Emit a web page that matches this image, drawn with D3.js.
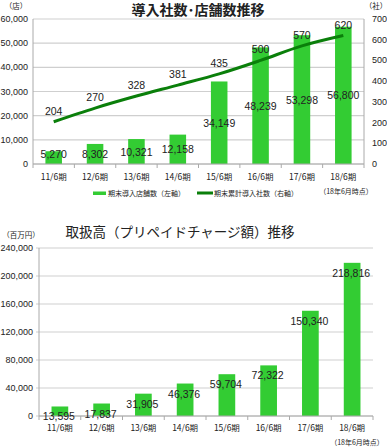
<!DOCTYPE html>
<html>
<head>
<meta charset="UTF-8">
<script src="https://d3js.org/d3.v7.min.js"></script>
<style>
	body { margin: 0; background: #fff; }
	text { font-family: "Liberation Sans", "Noto Sans CJK JP", sans-serif; fill: #222; }
	.jp { font-family: "Noto Sans CJK JP", sans-serif; }
</style>
</head>
<body>
<div id="chart"></div>
<script>
	// data
	let periods = ["11/6期", "12/6期", "13/6期", "14/6期", "15/6期", "16/6期", "17/6期", "18/6期"];
	let stores = [5270, 8302, 10321, 12158, 34149, 48239, 53298, 56800];
	let companies = [204, 270, 328, 381, 435, 500, 570, 620];
	let volume = [13595, 17837, 31905, 46376, 59704, 72322, 150340, 218816];

	let leftTicks = [0, 10000, 20000, 30000, 40000, 50000, 60000];
	let rightTicks = [0, 100, 200, 300, 400, 500, 600, 700];
	let volTicks = [0, 40000, 80000, 120000, 160000, 200000, 240000];

	let barColor = "#33cc33";
	let lineColor = "#0a7f0a";
	let gridColor = "#cfcfcf";
	let fmt = d3.format(",");

	let svg = d3.select("#chart").append("svg")
		.attr("width", 387)
		.attr("height", 447);

	// ---------- top chart ----------
	let topG = svg.append("g");

	let x1 = d3.scaleBand().domain(periods).range([33, 364]).paddingInner(0.6).paddingOuter(0.3);
	let yL = d3.scaleLinear().domain([0, 60000]).range([164, 19]);
	let yR = d3.scaleLinear().domain([0, 700]).range([164, 19]);

	topG.selectAll(".grid")
		.data(leftTicks)
		.join("line")
		.attr("x1", 33).attr("x2", 364)
		.attr("y1", d => yL(d)).attr("y2", d => yL(d))
		.attr("stroke", gridColor).attr("stroke-width", 1.2);

	topG.selectAll(".bar")
		.data(stores)
		.join("rect")
		.attr("x", (d, i) => x1(periods[i]))
		.attr("y", d => yL(d))
		.attr("width", x1.bandwidth())
		.attr("height", d => yL(0) - yL(d))
		.attr("fill", barColor);

	// axes lines
	topG.append("line").attr("x1", 33).attr("x2", 33).attr("y1", 19).attr("y2", 164).attr("stroke", "#aaa");
	topG.append("line").attr("x1", 364).attr("x2", 364).attr("y1", 19).attr("y2", 164).attr("stroke", "#aaa");
	topG.append("line").attr("x1", 33).attr("x2", 364).attr("y1", 164).attr("y2", 164).attr("stroke", "#aaa");

	topG.selectAll(".xtick")
		.data(d3.range(periods.length + 1))
		.join("line")
		.attr("x1", i => 33 + i * (331 / periods.length))
		.attr("x2", i => 33 + i * (331 / periods.length))
		.attr("y1", 164).attr("y2", 168)
		.attr("stroke", "#aaa");

	topG.selectAll(".ltick")
		.data(leftTicks)
		.join("text")
		.attr("x", 28).attr("y", d => yL(d) + 3)
		.attr("text-anchor", "end")
		.attr("font-size", 9)
		.text(d => fmt(d));

	topG.selectAll(".rtick")
		.data(rightTicks)
		.join("text")
		.attr("x", 372).attr("y", d => yR(d) + 3)
		.attr("font-size", 9)
		.text(d => d);

	topG.selectAll(".xlab")
		.data(periods)
		.join("text")
		.attr("class", "jp")
		.attr("x", d => x1(d) + x1.bandwidth() / 2)
		.attr("y", 180)
		.attr("text-anchor", "middle")
		.attr("font-size", 8.5)
		.text(d => d);

	let line = d3.line()
		.x((d, i) => x1(periods[i]) + x1.bandwidth() / 2)
		.y(d => yR(d))
		.curve(d3.curveMonotoneX);

	topG.append("path")
		.datum(companies)
		.attr("d", line)
		.attr("fill", "none")
		.attr("stroke", lineColor)
		.attr("stroke-width", 3);

	topG.selectAll(".barlab")
		.data(stores)
		.join("text")
		.attr("x", (d, i) => x1(periods[i]) + x1.bandwidth() / 2)
		.attr("y", d => Math.min((yL(d) + yL(0)) / 2, 154) + 4)
		.attr("text-anchor", "middle")
		.attr("font-size", 10.5)
		.text(d => fmt(d));

	topG.selectAll(".linelab")
		.data(companies)
		.join("text")
		.attr("x", (d, i) => x1(periods[i]) + x1.bandwidth() / 2)
		.attr("y", d => yR(d) - 7)
		.attr("text-anchor", "middle")
		.attr("font-size", 10.5)
		.text(d => d);

	topG.append("text").attr("class", "jp")
		.attr("x", 198).attr("y", 14.5)
		.attr("text-anchor", "middle")
		.attr("font-size", 14).attr("font-weight", "bold")
		.text("導入社数･店舗数推移");
	topG.append("text").attr("class", "jp")
		.attr("x", 16).attr("y", 9).attr("text-anchor", "middle")
		.attr("font-size", 7.5).text("（店）");
	topG.append("text").attr("class", "jp")
		.attr("x", 376).attr("y", 9).attr("text-anchor", "middle")
		.attr("font-size", 7.5).text("（社）");

	// legend
	topG.append("rect").attr("x", 93).attr("y", 191.5).attr("width", 13).attr("height", 3.5).attr("fill", barColor);
	topG.append("text").attr("class", "jp").attr("x", 108).attr("y", 196)
		.attr("font-size", 7).text("期末導入店舗数（左軸）");
	topG.append("rect").attr("x", 197).attr("y", 191.5).attr("width", 16).attr("height", 3).attr("fill", lineColor);
	topG.append("text").attr("class", "jp").attr("x", 214).attr("y", 196)
		.attr("font-size", 7).text("期末累計導入社数（右軸）");
	topG.append("text").attr("class", "jp").attr("x", 346).attr("y", 194)
		.attr("text-anchor", "middle")
		.attr("font-size", 7).text("（18年6月時点）");

	// ---------- bottom chart ----------
	let bot = svg.append("g");

	let x2 = d3.scaleBand().domain(periods).range([39, 373]).paddingInner(0.6).paddingOuter(0.3);
	let yV = d3.scaleLinear().domain([0, 240000]).range([416, 248]);

	bot.selectAll(".grid")
		.data(volTicks)
		.join("line")
		.attr("x1", 36).attr("x2", 373)
		.attr("y1", d => yV(d)).attr("y2", d => yV(d))
		.attr("stroke", gridColor).attr("stroke-width", 1.2);

	bot.selectAll(".bar")
		.data(volume)
		.join("rect")
		.attr("x", (d, i) => x2(periods[i]))
		.attr("y", d => yV(d))
		.attr("width", x2.bandwidth())
		.attr("height", d => yV(0) - yV(d))
		.attr("fill", barColor);

	bot.append("line").attr("x1", 39).attr("x2", 39).attr("y1", 248).attr("y2", 416).attr("stroke", "#aaa");
	bot.append("line").attr("x1", 39).attr("x2", 373).attr("y1", 416).attr("y2", 416).attr("stroke", "#aaa");

	bot.selectAll(".xtick")
		.data(d3.range(periods.length + 1))
		.join("line")
		.attr("x1", i => 39 + i * (334 / periods.length))
		.attr("x2", i => 39 + i * (334 / periods.length))
		.attr("y1", 416).attr("y2", 420)
		.attr("stroke", "#aaa");

	bot.selectAll(".ltick")
		.data(volTicks)
		.join("text")
		.attr("x", 33).attr("y", d => yV(d) + 3)
		.attr("text-anchor", "end")
		.attr("font-size", 9)
		.text(d => fmt(d));

	bot.selectAll(".xlab")
		.data(periods)
		.join("text")
		.attr("class", "jp")
		.attr("x", d => x2(d) + x2.bandwidth() / 2)
		.attr("y", 431)
		.attr("text-anchor", "middle")
		.attr("font-size", 8.5)
		.text(d => d);

	bot.selectAll(".barlab")
		.data(volume)
		.join("text")
		.attr("x", (d, i) => x2(periods[i]) + x2.bandwidth() / 2 - 1)
		.attr("y", d => yV(d) + 14)
		.attr("text-anchor", "middle")
		.attr("font-size", 10.5)
		.text(d => fmt(d));

	bot.append("text").attr("class", "jp")
		.attr("x", 180).attr("y", 237)
		.attr("text-anchor", "middle")
		.attr("font-size", 13.5)
		.text("取扱高（プリペイドチャージ額）推移");
	bot.append("text").attr("class", "jp")
		.attr("x", 21).attr("y", 238).attr("text-anchor", "middle")
		.attr("font-size", 7.5).text("（百万円）");
	bot.append("text").attr("class", "jp")
		.attr("x", 357).attr("y", 445).attr("text-anchor", "middle")
		.attr("font-size", 7).text("（18年6月時点）");
</script>
</body>
</html>
